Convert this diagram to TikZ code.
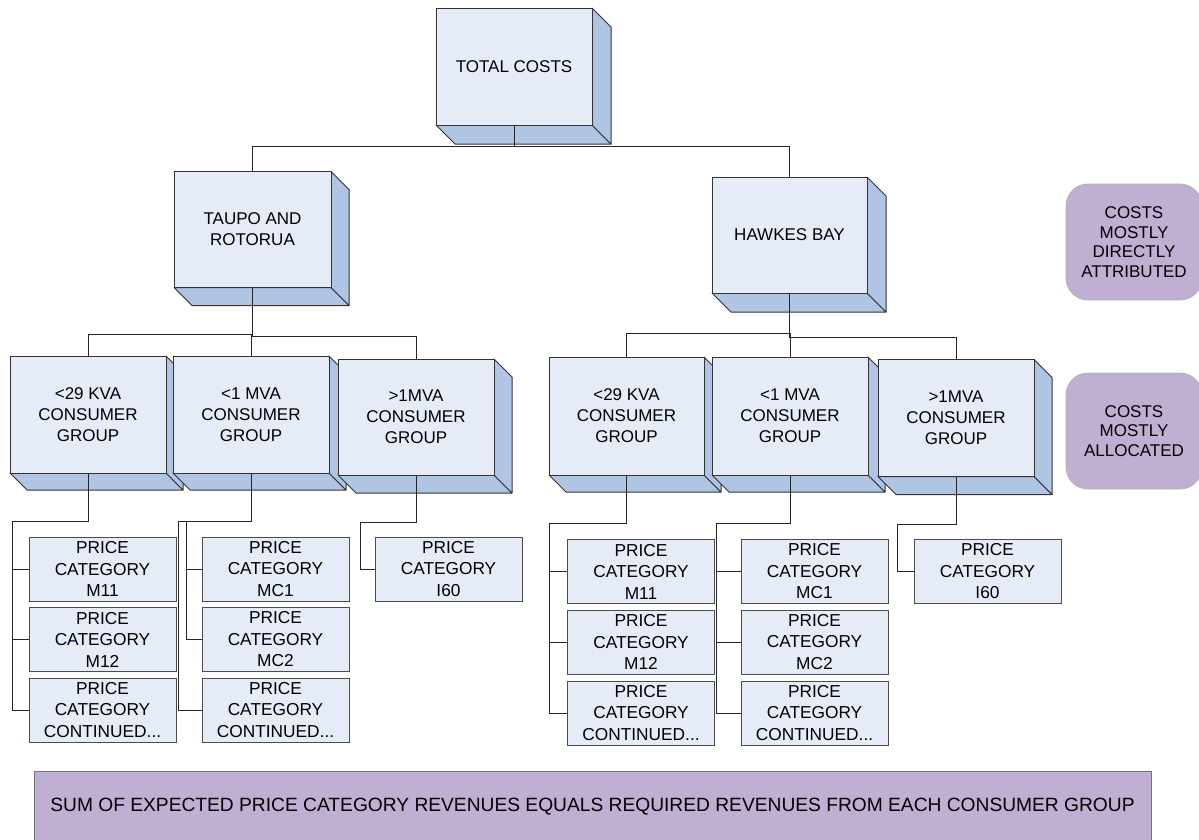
\documentclass[tikz,border=0pt]{standalone}
\usepackage{fontspec}
\setmainfont{Liberation Sans}
\usetikzlibrary{calc}
\definecolor{facec}{RGB}{230,236,247}
\definecolor{sidec}{RGB}{176,196,228}
\definecolor{purp}{RGB}{191,176,211}
\tikzset{
 txt/.style={font=\fontsize{17}{21}\selectfont, align=center},
 face/.style={txt, draw=black!80, fill=facec, line width=1pt, inner sep=0pt},
 sideface/.style={draw=black!80, fill=sidec, line width=1pt, line join=round},
 pbox/.style={txt, font=\fontsize{17.3}{21.5}\selectfont, draw=black!70, fill=facec, line width=1pt, inner sep=0pt, minimum width=147pt, minimum height=64pt},
 conn/.style={draw=black!85, line width=1pt},
 note/.style={txt, font=\fontsize{17}{19.7}\selectfont, draw=black!30, fill=purp, line width=0.8pt, inner sep=0pt},
}
% name, cx, cy, w, h, depth, text
\newcommand\cubebox[7]{%
 \begin{scope}[shift={(#2,#3)}]
  \filldraw[sideface] ({-#4/2},{#5/2}) -- ++(#6,#6) -- ({#4/2+#6},{#5/2+#6}) -- ({#4/2},{#5/2}) -- cycle;
  \filldraw[sideface] ({#4/2},{-#5/2}) -- ++(#6,#6) -- ({#4/2+#6},{#5/2+#6}) -- ({#4/2},{#5/2}) -- cycle;
 \end{scope}
 \node[face, minimum width=#4pt, minimum height=#5pt] (#1) at (#2,#3) {#7};
}
\begin{document}
\begin{tikzpicture}[x=1pt, y=-1pt]
\useasboundingbox (0,0) rectangle (1199,839);

% top level
\cubebox{top}{514}{66.5}{156}{117}{19}{TOTAL COSTS}
\cubebox{taupo}{252.5}{229.5}{157}{116}{18}{TAUPO AND\\ROTORUA}
\cubebox{hawkes}{789.5}{235}{155}{116}{19}{HAWKES BAY}

% consumer groups left
\cubebox{lc1}{88}{414.5}{156}{117}{17}{<29 KVA\\CONSUMER\\GROUP}
\cubebox{lc2}{251}{414.5}{156}{117}{17}{<1 MVA\\CONSUMER\\GROUP}
\cubebox{lc3}{416}{417}{156}{116}{18}{>1MVA\\CONSUMER\\GROUP}

% consumer groups right
\cubebox{rc1}{626.5}{416}{155}{118}{17}{<29 KVA\\CONSUMER\\GROUP}
\cubebox{rc2}{790}{416}{156}{118}{17}{<1 MVA\\CONSUMER\\GROUP}
\cubebox{rc3}{956}{418}{156}{117}{18}{>1MVA\\CONSUMER\\GROUP}

% price categories left
\node[pbox] (p11) at (102.5,569) {PRICE\\CATEGORY\\M11};
\node[pbox] (p12) at (102.5,639.5) {PRICE\\CATEGORY\\M12};
\node[pbox] (p13) at (102.5,710) {PRICE\\CATEGORY\\CONTINUED...};
\node[pbox] (p21) at (275.5,569) {PRICE\\CATEGORY\\MC1};
\node[pbox] (p22) at (275.5,639.5) {PRICE\\CATEGORY\\MC2};
\node[pbox] (p23) at (275.5,710) {PRICE\\CATEGORY\\CONTINUED...};
\node[pbox] (p31) at (448.5,569) {PRICE\\CATEGORY\\I60};

% price categories right
\node[pbox] (q11) at (641,571.5) {PRICE\\CATEGORY\\M11};
\node[pbox] (q12) at (641,642) {PRICE\\CATEGORY\\M12};
\node[pbox] (q13) at (641,713) {PRICE\\CATEGORY\\CONTINUED...};
\node[pbox] (q21) at (814.5,571.5) {PRICE\\CATEGORY\\MC1};
\node[pbox] (q22) at (814.5,642) {PRICE\\CATEGORY\\MC2};
\node[pbox] (q23) at (814.5,713) {PRICE\\CATEGORY\\CONTINUED...};
\node[pbox] (q31) at (987.5,571.5) {PRICE\\CATEGORY\\I60};

% notes
\node[note, rounded corners=22pt, minimum width=136pt, minimum height=116pt] (n1) at (1134,242) {COSTS\\MOSTLY\\DIRECTLY\\ATTRIBUTED};
\node[note, rounded corners=22pt, minimum width=136pt, minimum height=116pt] (n2) at (1134,431) {COSTS\\MOSTLY\\ALLOCATED};
\node[note, font=\fontsize{19.2}{22}\selectfont, draw=black!55, minimum width=1117pt, minimum height=72pt] (sum) at (592.5,807) {SUM OF EXPECTED PRICE CATEGORY REVENUES EQUALS REQUIRED REVENUES FROM EACH CONSUMER GROUP};

% connectors: top level
\draw[conn] (top.south) -- ++(0,21) -| (taupo.north);
\draw[conn] (top.south) -- ++(0,21) -| (hawkes.north);
\draw[conn] (taupo.south) -- ++(0,46) -| (lc1.north);
\draw[conn] (taupo.south) -- ++(0,46) -| (lc2.north);
\draw[conn] (taupo.south) -- ++(0,48) -| (lc3.north);
\draw[conn] (hawkes.south) -- ++(0,40) -| (rc1.north);
\draw[conn] (hawkes.south) -- ++(0,40) -| (rc2.north);
\draw[conn] (hawkes.south) -- ++(0,44) -| (rc3.north);

% connectors: left price categories
\draw[conn] (lc1.south) -- ++(0,48) -| ([xshift=-16pt]p11.west) -- (p11.west);
\draw[conn] ([xshift=-16pt]p11.west) |- (p12.west);
\draw[conn] ([xshift=-16pt]p12.west) |- (p13.west);
\draw[conn] (lc2.south) -- ++(0,48) -| ([xshift=-23pt]p23.west) -- (p23.west);
\draw[conn] (lc2.south) -- ++(0,48) -| ([xshift=-15pt]p21.west) -- (p21.west);
\draw[conn] ([xshift=-15pt]p21.west) |- (p22.west);
\draw[conn] (lc3.south) -- ++(0,47) -| ([xshift=-14pt]p31.west) -- (p31.west);

% connectors: right price categories
\draw[conn] (rc1.south) -- ++(0,48) -| ([xshift=-18pt]q11.west) -- (q11.west);
\draw[conn] ([xshift=-18pt]q11.west) |- (q12.west);
\draw[conn] ([xshift=-18pt]q12.west) |- (q13.west);
\draw[conn] (rc2.south) -- ++(0,48) -| ([xshift=-24pt]q21.west) -- (q21.west);
\draw[conn] ([xshift=-24pt]q21.west) |- (q22.west);
\draw[conn] ([xshift=-24pt]q22.west) |- (q23.west);
\draw[conn] (rc3.south) -- ++(0,47) -| ([xshift=-16pt]q31.west) -- (q31.west);
\end{tikzpicture}
\end{document}
